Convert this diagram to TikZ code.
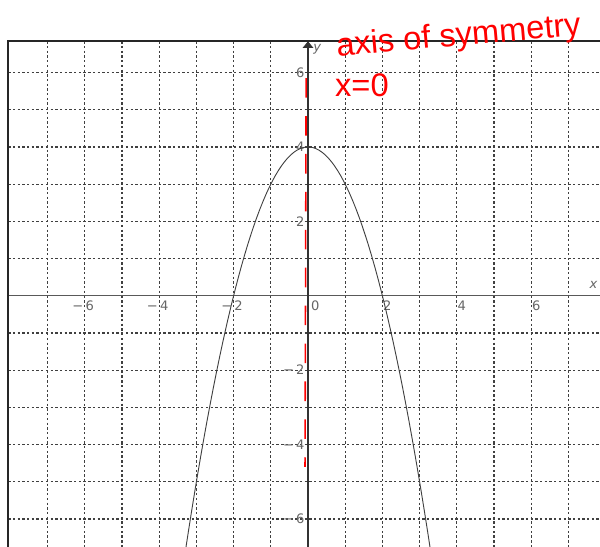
\documentclass[tikz,border=0pt]{standalone}
\usepackage{fontspec}
\setmainfont{DejaVu Sans}
\newfontfamily\handfont{Liberation Sans}
\usetikzlibrary{arrows.meta}
\tikzset{
  frm/.style ={draw=black!85, line width=1.6pt},
  grd/.style ={draw=black!75, line width=0.9pt, dash pattern=on 1.8pt off 1.8pt},
  ax/.style  ={draw=black!65, line width=0.8pt},
  crv/.style ={draw=black!75, line width=0.7pt},
  tck/.style ={font=\fontsize{10}{11}\selectfont, text=black!60, inner sep=1pt},
  sym/.style ={draw=red, line width=1.2pt, dash pattern=on 15pt off 14pt},
  hw/.style  ={font=\handfont\fontsize{25}{26}\selectfont, text=red, inner sep=0pt},
}
\begin{document}
\begin{tikzpicture}[x=1cm, y=1cm, >=Latex]
  \useasboundingbox (-8.28,-6.73) rectangle (7.85,7.95);
  \clip (-8.28,-6.73) rectangle (7.85,7.95);
  % grid
  \foreach \gx in {-7,...,-1,1,2,...,7}
    \draw[grd] (\gx,6.84) -- (\gx,-6.8);
  \foreach \gy in {-6,...,-1,1,2,...,6}
    \draw[grd] (-8.06,\gy) -- (7.9,\gy);
  % axes
  \draw[ax] (-8.06,0) -- (7.9,0);
  \draw[ax, draw=black!80, -{Triangle[width=8pt,length=5pt]}] (0,-6.8) -- (0,6.84);
  \node[tck, anchor=west] (ylab) at (0.1,6.62) {\itshape y};
  \node[tck, anchor=south east] (xlab) at (7.82,0.14) {\itshape x};
  % tick labels
  \foreach \t in {2,4,6} {
    \node[tck, anchor=north west] (xp\t) at (-0.02,-0.1) [xshift=\t cm] {\t};
    \node[tck, anchor=north west] (xn\t) at (-0.02,-0.1) [xshift=-\t cm] {\llap{−\,}\t};
    \node[tck, anchor=east] (yp\t) at (-0.05,\t) {\t};
    \node[tck, anchor=east] (yn\t) at (-0.05,-\t) {−\,\t};
  }
  \node[tck, anchor=north west] (orig) at (0.04,-0.1) {0};
  % frame
  \draw[frm] (-8.06,-7) -- (-8.06,6.84) -- (8,6.84);
  % parabola
  \draw[crv, domain=-3.3:3.3, samples=80] plot (\x,{4-\x*\x});
  % hand notes
  \draw[sym] (-0.05,5.85) -- (-0.08,-4.6);
  \node[hw, rotate=5] (axisnote) at (4.05,6.95) {axis of symmetry};
  \node[hw] (eqnote) at (1.45,5.66) {x=0};
\end{tikzpicture}
\end{document}
